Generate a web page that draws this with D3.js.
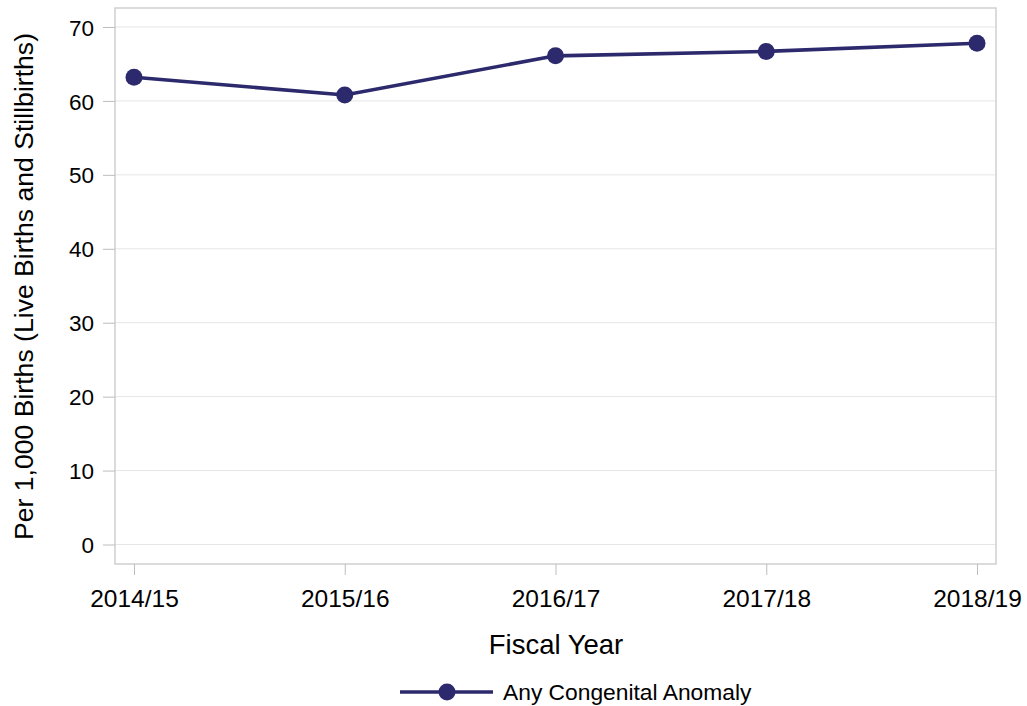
<!DOCTYPE html>
<html><head><meta charset="utf-8">
<script src="https://cdn.jsdelivr.net/npm/d3@7"></script>
<style>body{margin:0;background:#fff}svg{display:block;font-family:"Liberation Sans",Arial,sans-serif}</style>
</head><body><svg id="c" width="1027" height="706"></svg>
<script>
const categories = ["2014/15","2015/16","2016/17","2017/18","2018/19"];
const values = [63.2, 60.8, 66.1, 66.7, 67.8];
const yTicks = [0,10,20,30,40,50,60,70];
const seriesName = "Any Congenital Anomaly";
const color = "#2c2a6c";
const FONT = "Liberation Sans, Arial, sans-serif";

const svg = d3.select("#c");
const L = 115, R = 996, T = 8, B = 564;
const x = d3.scalePoint().domain(categories).range([134, 977]);
const y = d3.scaleLinear().domain([0,70]).range([544.5, 27]);

// gridlines
svg.append("g").selectAll("line").data(yTicks).join("line")
  .attr("x1", L).attr("x2", R).attr("y1", d=>y(d)).attr("y2", d=>y(d))
  .attr("stroke", "#e6e6e6").attr("stroke-width", 1);

// frame
svg.append("rect").attr("x", L).attr("y", T).attr("width", R-L).attr("height", B-T)
  .attr("fill","none").attr("stroke","#cfcfcf").attr("stroke-width",1.5);

// y axis
const ya = svg.append("g").attr("transform", `translate(${L},0)`)
  .call(d3.axisLeft(y).tickValues(yTicks).tickSize(12).tickPadding(9));
ya.select(".domain").remove();
ya.selectAll("line").attr("stroke","#bdbdbd");
ya.selectAll("text").attr("font-size","22.5px").attr("fill","#000").attr("font-family",FONT).attr("dy","0.36em");

// x axis
const xa = svg.append("g").attr("transform", `translate(0,${B})`)
  .call(d3.axisBottom(x).tickSize(11).tickPadding(8));
xa.select(".domain").remove();
xa.selectAll("line").attr("stroke","#bdbdbd");
xa.selectAll("text").attr("font-size","24.5px").attr("fill","#000").attr("font-family",FONT)
  .attr("dy",null).attr("y",43);

// axis titles
svg.append("text").attr("x", 556).attr("y", 654).attr("text-anchor","middle")
  .attr("font-size","27.5px").text("Fiscal Year");
svg.append("text").attr("transform","translate(33,286.5) rotate(-90)").attr("text-anchor","middle")
  .attr("font-size","26.6px").text("Per 1,000 Births (Live Births and Stillbirths)");

// line
const data = categories.map((c,i)=>({c, v: values[i]}));
svg.append("path").datum(data)
  .attr("d", d3.line().x(d=>x(d.c)).y(d=>y(d.v)))
  .attr("fill","none").attr("stroke",color).attr("stroke-width",3.6);
svg.append("g").selectAll("circle").data(data).join("circle")
  .attr("cx", d=>x(d.c)).attr("cy", d=>y(d.v)).attr("r", 8.5).attr("fill", color);

// legend
const ly = 692;
svg.append("line").attr("x1",400).attr("x2",493).attr("y1",ly).attr("y2",ly)
  .attr("stroke",color).attr("stroke-width",3.6);
svg.append("circle").attr("cx",447).attr("cy",ly).attr("r",8.5).attr("fill",color);
svg.append("text").attr("x",503).attr("y",ly+8).attr("font-size","22.8px").text(seriesName);
</script></body></html>
